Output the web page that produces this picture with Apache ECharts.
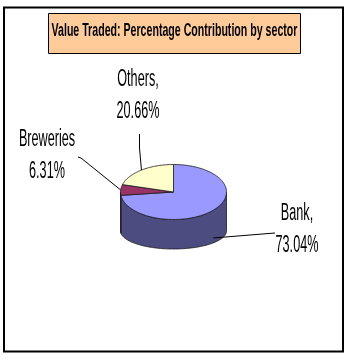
<!DOCTYPE html>
<html>
<head>
<meta charset="utf-8">
<script src="https://cdn.jsdelivr.net/npm/echarts@6/dist/echarts.min.js"></script>
<style>
  html, body { margin: 0; padding: 0; background: #fff; }
  #chart { width: 348px; height: 360px; }
</style>
</head>
<body>
<div id="chart"></div>
<script>
// Value traded, share by sector (%)
const categories = ['Bank', 'Breweries', 'Others'];
const shares = [73.04, 6.31, 20.66];
const labelNames = ['Bank,', 'Breweries', 'Others,'];
const titleText = 'Value Traded: Percentage Contribution by sector';

// slice colours: top face and darker side wall
const topColors = ['#9999FF', '#993366', '#FFFFCC'];
const sideColors = ['#4C4C80', '#4D1A33', '#80806A'];

// tilted pie: top ellipse and (flatter) bottom ellipse
const PIE = { cx: 173.5, cy: 192, rx: 53, ry: 27.5, bcy: 231, bry: 18 };
// label anchors (centre x, top y) and the fixed start of each leader line
const LABELS = [
  { x: 297, y: 198, line: [[275, 233], [250, 235]] },
  { x: 47, y: 124, line: [[78, 157], [81, 158]] },
  { x: 138, y: 64, line: [[139.5, 134], [139.5, 148]] }
];
const FONT = '"Liberation Sans", Arial, sans-serif';

const total = shares.reduce((s, v) => s + v, 0);
const starts = [];
shares.reduce((acc, v) => { starts.push(acc); return acc + v; }, 0);

// angle in degrees, clockwise from 12 o'clock
function pt(deg, cy, ry) {
  const r = deg * Math.PI / 180;
  return [PIE.cx + PIE.rx * Math.sin(r), cy - ry * Math.cos(r)];
}
function arc(a, b, cy, ry) {
  const pts = [];
  const n = Math.max(2, Math.ceil(Math.abs(b - a) / 1.5));
  for (let i = 0; i <= n; i++) pts.push(pt(a + (b - a) * i / n, cy, ry));
  return pts;
}

function renderItem(params, api) {
  const i = params.dataIndex;
  const v = api.value(1);
  const a = starts[i] / total * 360;
  const b = a + v / total * 360;
  const children = [];
  const edge = { stroke: '#1a1a1a', lineWidth: 0.8, lineJoin: 'round' };

  // visible side wall (front half: 90..270 degrees)
  const s = Math.max(a, 90), e = Math.min(b, 270);
  if (e > s) {
    children.push({
      type: 'polygon', z2: 1,
      shape: { points: arc(s, e, PIE.cy, PIE.ry).concat(arc(e, s, PIE.bcy, PIE.bry)) },
      style: Object.assign({ fill: sideColors[i] }, edge)
    });
  }
  // top face
  children.push({
    type: 'polygon', z2: 2,
    shape: { points: [[PIE.cx, PIE.cy]].concat(arc(a, b, PIE.cy, PIE.ry)) },
    style: Object.assign({ fill: topColors[i] }, edge)
  });

  // leader line to the slice's mid angle
  const m = (a + b) / 2;
  let end;
  if (m > 90 && m < 270) {
    const t = pt(m, PIE.cy, PIE.ry), bt = pt(m, PIE.bcy, PIE.bry);
    end = [t[0], t[1] + (bt[1] - t[1]) * 0.85];
  } else {
    end = pt(m, PIE.cy, PIE.ry);
  }
  const L = LABELS[i];
  children.push({
    type: 'polyline', z2: 3,
    shape: { points: L.line.concat([end]) },
    style: { stroke: '#000', lineWidth: 1, fill: null }
  });
  // label
  children.push({
    type: 'text', z2: 4, x: L.x, y: L.y, scaleX: 0.55,
    style: {
      text: labelNames[i] + '\n' + v.toFixed(2) + '%',
      x: 0, y: 0, align: 'center', verticalAlign: 'top',
      font: '23px ' + FONT, lineHeight: 32, fill: '#000'
    }
  });
  return { type: 'group', children: children };
}

const chart = echarts.init(document.getElementById('chart'), null, { renderer: 'canvas' });
chart.setOption({
  animation: false,
  backgroundColor: '#fff',
  graphic: [
    { type: 'rect', shape: { x: 4, y: 7.5, width: 339, height: 344 },
      style: { fill: 'none', stroke: '#000', lineWidth: 2 } },
    { type: 'rect', shape: { x: 48.5, y: 13.5, width: 252, height: 40 },
      style: { fill: '#FFCC99', stroke: '#000', lineWidth: 1 } },
    { type: 'text', x: 174.5, y: 31.5, scaleX: 0.6,
      style: { text: titleText, font: 'bold 17.7px ' + FONT, align: 'center',
               verticalAlign: 'middle', fill: '#000' } }
  ],
  series: [{
    type: 'custom',
    coordinateSystem: 'none',
    renderItem: renderItem,
    data: shares.map((v, i) => [i, v, categories[i]])
  }]
});
</script>
</body>
</html>
